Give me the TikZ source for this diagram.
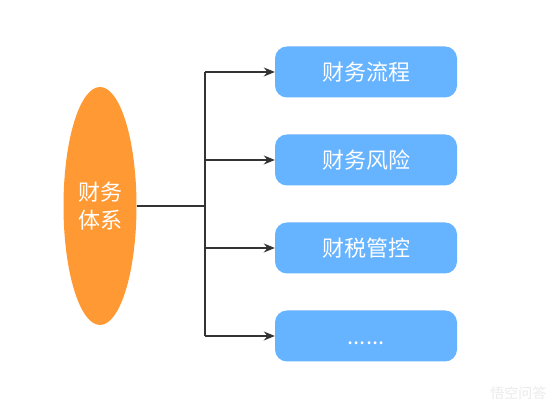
\documentclass[tikz,border=0pt]{standalone}
\usepackage{fontspec}
\setmainfont{Noto Sans CJK SC}
\usetikzlibrary{arrows.meta,shapes.geometric}
\definecolor{orangefill}{HTML}{FF9933}
\definecolor{bluefill}{HTML}{66B3FF}
\definecolor{linegray}{HTML}{333333}
\tikzset{
  x=1pt,y=1pt,
  bluebox/.style={draw=none,fill=bluefill,rounded corners=12pt,minimum width=182pt,minimum height=51pt,inner sep=0pt,text=white,font=\fontsize{22}{26}\selectfont},
  mainell/.style={ellipse,draw=none,fill=orangefill,minimum width=73pt,minimum height=238pt,inner sep=0pt,text=white,font=\fontsize{22}{28}\selectfont,align=center},
  conn/.style={draw=linegray,line width=1.5pt},
  arr/.style={conn,-{Stealth[length=11pt,width=9pt]}}
}
\begin{document}
\begin{tikzpicture}
\useasboundingbox (0,0) rectangle (557,411);
\fill[white] (0,0) rectangle (557,411);
\node[mainell] (root) at (100,205) {财务\\体系};
\node[bluebox] (b1) at (366,339) {财务流程};
\node[bluebox] (b2) at (366,251) {财务风险};
\node[bluebox] (b3) at (366,163) {财税管控};
\node[bluebox] (b4) at (366,75) {\vphantom{财}......};
\coordinate (j) at (205,205);
\coordinate (t) at (205,339);
\coordinate (m2) at (205,251);
\coordinate (m3) at (205,163);
\coordinate (bt) at (205,75);
\draw[conn] (root.east) -- (j);
\draw[conn] (t) -- (bt);
\draw[arr] (t) -- (b1.west);
\draw[arr] (m2) -- (b2.west);
\draw[arr] (m3) -- (b3.west);
\draw[arr] (bt) -- (b4.west);
\node[text=black!8,font=\fontsize{14}{16}\selectfont,anchor=east] (wm) at (550,18) {悟空问答};
\end{tikzpicture}
\end{document}
